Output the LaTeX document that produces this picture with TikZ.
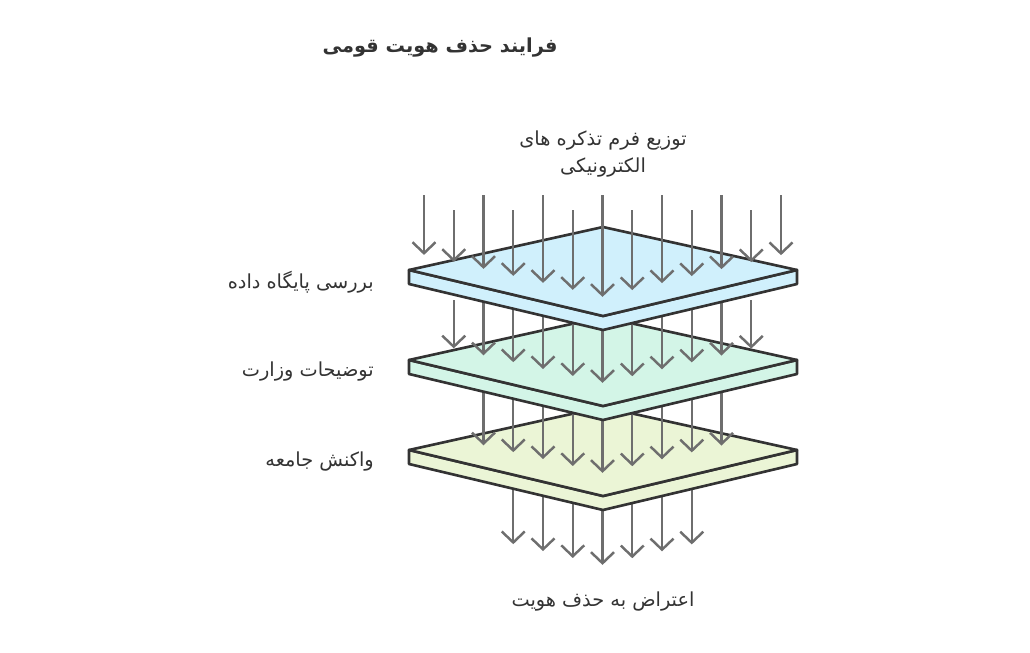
\documentclass[tikz,border=0pt]{standalone}
\usepackage{fontspec}
\usetikzlibrary{arrows.meta, positioning}
\TeXXeTstate=1
\newfontfamily\arabicfont[Script=Arabic]{DejaVu Sans}
\definecolor{slabone}{RGB}{208,240,252}
\definecolor{slabtwo}{RGB}{211,245,231}
\definecolor{slabthree}{RGB}{235,245,214}
\definecolor{rayc}{RGB}{110,110,110}
\definecolor{edgec}{RGB}{51,51,51}

% one slab: #1 = y of left corner, #2 = fill colour
\newcommand{\drawslab}[2]{
  \filldraw[slab, fill=#2] (409,#1) -- (603,#1+46) -- (797,#1) -- (797,#1+14) -- (603,#1+60) -- (409,#1+14) -- cycle;
  \filldraw[slab, fill=#2] (409,#1) -- (603,#1-43) -- (797,#1) -- (603,#1+46) -- cycle;
}
% a row of rays: #1 = first index, #2 = last index, #3 = start y, #4 = tip y at centre
\newcommand{\drawrays}[4]{
  \foreach \i in {#1,...,#2} {
    \pgfmathsetmacro{\rx}{424+29.75*\i}
    \pgfmathsetmacro{\ry}{#4-0.232*abs(\rx-603)}
    \draw[ray] (\rx,#3) -- (\rx,\ry);
  }
}

\begin{document}
\begin{tikzpicture}[
    x=0.02cm, y=-0.02cm,
    ray/.style={-{Straight Barb[length=2.2mm, width=4.6mm]}, line width=1.4pt, draw=rayc},
    slab/.style={draw=edgec, line width=1.5pt, line join=round},
    label/.style={font=\arabicfont\fontsize{11}{15}\selectfont, text=black!80, align=center}
]
\useasboundingbox (0,0) rectangle (1030,652);

% Layers, bottom first
\drawrays{3}{9}{480}{565}
\drawslab{450}{slabthree}
\drawrays{2}{10}{390}{473}
\drawslab{360}{slabtwo}
\drawrays{1}{11}{300}{383}
\drawslab{270}{slabone}

% Rays entering from above
\foreach \i in {0,...,12} {
  \pgfmathsetmacro{\rx}{424+29.75*\i}
  \pgfmathsetmacro{\rs}{isodd(\i) ? 210 : 195}
  \pgfmathsetmacro{\ry}{297-0.235*abs(\rx-603)}
  \draw[ray] (\rx,\rs) -- (\rx,\ry);
}

% Texts
\node[label, font=\arabicfont\bfseries\fontsize{11}{15}\selectfont] (title) at (440,48) {\beginR فرایند حذف هویت قومی\endR};
\node[label] (input) at (603,154) {\beginR توزیع فرم تذکره های\endR\\\beginR الکترونیکی\endR};
\node[label, anchor=east] (check) at (380,282) {\beginR بررسی پایگاه داده\endR};
\node[label, anchor=east] (ministry) at (380,372) {\beginR توضیحات وزارت\endR};
\node[label, anchor=east] (society) at (380,462) {\beginR واکنش جامعه\endR};
\node[label] (output) at (603,602) {\beginR اعتراض به حذف هویت\endR};

\end{tikzpicture}
\end{document}
